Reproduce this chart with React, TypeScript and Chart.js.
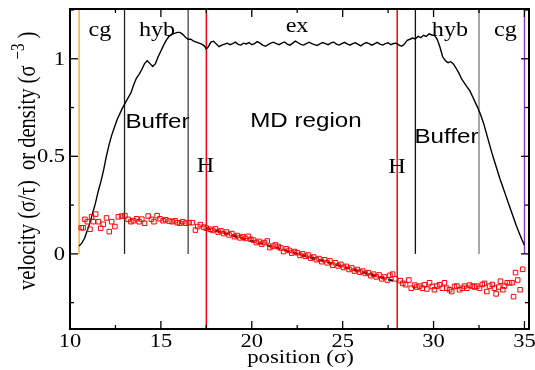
import React, { useEffect, useRef } from "react";
import { Chart, registerables } from "chart.js";

Chart.register(...registerables);

// ---------------- data ----------------
const X_MIN = 10;
const X_MAX = 35.25;
const Y_MIN = -0.385;
const Y_MAX = 1.255;

const xMajorTicks = [10, 15, 20, 25, 30, 35];
const xMinorTicks = [12.5, 17.5, 22.5, 27.5, 32.5];
const yMajorTicks = [0, 0.5, 1];
const yMinorTicks = [-0.25, 0.25, 0.75, 1.25];
const xTickLabels = ["10", "15", "20", "25", "30", "35"];
const yTickLabels = ["0", "0.5", "1"];

// density profile
const densityX = [
  10.5, 10.65, 10.8, 10.95, 11.1, 11.25, 11.4, 11.55, 11.7, 11.85, 12.0, 12.15, 12.3, 12.45, 12.6, 12.75, 12.9,
  13.05, 13.2, 13.35, 13.5, 13.65, 13.8, 13.95, 14.1, 14.25, 14.4, 14.55, 14.7, 14.85, 15.0, 15.15, 15.3, 15.45,
  15.6, 15.75, 15.9, 16.05, 16.2, 16.35, 16.5, 16.65, 16.8, 16.95, 17.1, 17.25, 17.4, 17.5, 17.6, 17.75, 17.9,
  18.05, 18.2, 18.35, 18.5, 18.65, 18.8, 18.95, 19.1, 19.25, 19.4, 19.55, 19.7, 19.85, 20.0, 20.15, 20.3, 20.45,
  20.6, 20.75, 20.9, 21.05, 21.2, 21.35, 21.5, 21.65, 21.8, 21.95, 22.1, 22.25, 22.4, 22.55, 22.7, 22.85, 23.0,
  23.15, 23.3, 23.45, 23.6, 23.75, 23.9, 24.05, 24.2, 24.35, 24.5, 24.65, 24.8, 24.95, 25.1, 25.25, 25.4, 25.55,
  25.7, 25.85, 26.0, 26.15, 26.3, 26.45, 26.6, 26.75, 26.9, 27.05, 27.2, 27.35, 27.5, 27.65, 27.8, 27.95, 28.1,
  28.25, 28.4, 28.55, 28.7, 28.85, 29.0, 29.15, 29.3, 29.45, 29.6, 29.75, 29.9, 30.05, 30.2, 30.35, 30.5, 30.65,
  30.8, 30.95, 31.1, 31.25, 31.4, 31.55, 31.7, 31.85, 32.0, 32.15, 32.3, 32.45, 32.6, 32.75, 32.9, 33.05, 33.2,
  33.35, 33.5, 33.65, 33.8, 33.95, 34.1, 34.25, 34.4, 34.55, 34.7, 34.85, 35.0,
];
const densityY = [
  0.04, 0.055, 0.08, 0.12, 0.16, 0.21, 0.26, 0.32, 0.37, 0.43, 0.5, 0.56, 0.61, 0.65, 0.69, 0.72, 0.75,
  0.775, 0.8, 0.825, 0.865, 0.9, 0.92, 0.945, 0.975, 0.99, 0.975, 0.96, 0.975, 1.01, 1.04, 1.07, 1.095, 1.115,
  1.125, 1.13, 1.135, 1.135, 1.125, 1.11, 1.1, 1.1, 1.09, 1.085, 1.08, 1.075, 1.065, 1.05, 1.06, 1.085, 1.09,
  1.075, 1.062, 1.07, 1.075, 1.08, 1.072, 1.078, 1.085, 1.074, 1.07, 1.08, 1.076, 1.083, 1.072, 1.078, 1.088, 1.08,
  1.07, 1.064, 1.072, 1.08, 1.085, 1.078, 1.072, 1.08, 1.086, 1.075, 1.07, 1.08, 1.09, 1.082, 1.074, 1.07, 1.078,
  1.085, 1.078, 1.072, 1.068, 1.076, 1.083, 1.078, 1.072, 1.08, 1.086, 1.075, 1.07, 1.078, 1.084, 1.076, 1.07, 1.078,
  1.082, 1.074, 1.066, 1.076, 1.083, 1.078, 1.07, 1.076, 1.084, 1.075, 1.07, 1.078, 1.082, 1.072, 1.078, 1.08, 1.07,
  1.064, 1.075, 1.095, 1.1, 1.106, 1.102, 1.115, 1.108, 1.12, 1.114, 1.128, 1.122, 1.12, 1.1, 1.06, 1.01, 0.99,
  0.98, 0.985, 0.972, 0.95, 0.925, 0.895, 0.875, 0.855, 0.835, 0.805, 0.775, 0.745, 0.71, 0.67, 0.62, 0.57, 0.52,
  0.475, 0.43, 0.385, 0.345, 0.305, 0.265, 0.225, 0.185, 0.145, 0.11, 0.075, 0.045,
];

// velocity profile (open squares)
const velocityX = [
  10.62, 10.72, 10.82, 10.95, 11.1, 11.19, 11.28, 11.41, 11.56, 11.69, 11.83, 12.01, 12.16, 12.29, 12.47, 12.66,
  12.84, 13.02, 13.2, 13.35, 13.5, 13.66, 13.8, 13.95, 14.1, 14.3, 14.48, 14.62, 14.79, 14.95, 15.12, 15.27, 15.45,
  15.62, 15.78, 15.9, 16.05, 16.2, 16.36, 16.55, 16.73, 16.9, 17.03, 17.17, 17.35, 17.5, 17.72, 17.85,
  18.0, 18.15, 18.3, 18.45, 18.6, 18.75, 18.9, 19.05, 19.2, 19.35, 19.5, 19.65, 19.8, 19.95, 20.1, 20.25, 20.4,
  20.55, 20.7, 20.85, 21.0, 21.15, 21.3, 21.45, 21.6, 21.75, 21.9, 22.05, 22.2, 22.35, 22.5, 22.65, 22.8, 22.95,
  23.1, 23.25, 23.4, 23.55, 23.7, 23.85, 24.0, 24.15, 24.3, 24.45, 24.6, 24.75, 24.9, 25.05, 25.2, 25.35, 25.5,
  25.65, 25.8, 25.95, 26.1, 26.25, 26.4, 26.55, 26.7, 26.85, 27.0, 27.15, 27.3, 27.45, 27.6, 27.75, 27.9,
  28.17, 28.31, 28.46, 28.64, 28.77, 28.96, 29.08, 29.23, 29.38, 29.5, 29.63, 29.78, 29.93, 30.05, 30.18, 30.33,
  30.48, 30.6, 30.73, 30.88, 31.0, 31.15, 31.28, 31.43, 31.58, 31.7, 31.83, 31.98, 32.13, 32.25, 32.38, 32.53,
  32.68, 32.8, 32.93, 33.08, 33.23, 33.35, 33.44, 33.59, 33.68, 33.81, 33.9, 34.05, 34.18, 34.32, 34.4, 34.51,
  34.63, 34.76, 34.9,
];
const velocityY = [
  0.134, 0.134, 0.177, 0.165, 0.126, 0.19, 0.165, 0.204, 0.165, 0.131, 0.152, 0.184, 0.114, 0.165, 0.14, 0.19,
  0.194, 0.196, 0.177, 0.165, 0.17, 0.18, 0.165, 0.178, 0.157, 0.194, 0.177, 0.165, 0.196, 0.18, 0.17, 0.175, 0.168,
  0.165, 0.17, 0.16, 0.157, 0.165, 0.157, 0.16, 0.16, 0.122, 0.14, 0.15, 0.137, 0.132, 0.126, 0.12,
  0.128, 0.112, 0.118, 0.104, 0.112, 0.097, 0.104, 0.088, 0.094, 0.082, 0.088, 0.079, 0.09, 0.075, 0.07, 0.058, 0.064,
  0.05, 0.058, 0.066, 0.032, 0.04, 0.046, 0.038, 0.03, 0.012, 0.026, 0.018, 0.004, 0.012, 0.006, -0.008, 0.0, -0.012,
  -0.006, -0.022, -0.016, -0.03, -0.024, -0.04, -0.03, -0.046, -0.036, -0.058, -0.046, -0.062, -0.054, -0.07, -0.064, -0.08, -0.072,
  -0.088, -0.08, -0.094, -0.088, -0.1, -0.096, -0.112, -0.104, -0.118, -0.108, -0.128, -0.118, -0.134, -0.11, -0.104, -0.128,
  -0.137, -0.151, -0.158, -0.134, -0.176, -0.16, -0.17, -0.165, -0.176, -0.158, -0.18, -0.148, -0.167, -0.184, -0.165, -0.158,
  -0.176, -0.148, -0.176, -0.184, -0.193, -0.167, -0.165, -0.184, -0.176, -0.165, -0.176, -0.16, -0.165, -0.17, -0.165, -0.176,
  -0.157, -0.151, -0.193, -0.165, -0.157, -0.176, -0.205, -0.17, -0.14, -0.184, -0.165, -0.148, -0.148, -0.148, -0.219, -0.096,
  -0.134, -0.184, -0.079,
];

// linear reference profile in the MD region (dashed)
const linearFitX = [17.5, 28];
const linearFitY = [0.132, -0.144];

// region boundaries (drawn from 0 to the top)
const boundaryX = [10.5, 13, 16.5, 29, 32.5, 35];
// H/MD interfaces (full height)
const interfaceX = [17.5, 28];

// text annotations
const regionLabels = ["cg", "hyb", "ex", "hyb", "cg"];
const regionLabelX = [11.65, 14.79, 22.49, 30.9, 33.95];
const regionLabelY = [1.117, 1.117, 1.139, 1.117, 1.117];
const zoneLabels = ["Buffer", "MD region", "Buffer"];
const zoneLabelX = [14.81, 22.98, 30.71];
const zoneLabelY = [0.645, 0.65, 0.568];
const hLabels = ["H", "H"];
const hLabelX = [17.45, 27.99];
const hLabelY = [0.421, 0.413];

// ---------------- styles ----------------
const SERIF = '"Liberation Serif", "Times New Roman", serif';
const SANS = '"Liberation Sans", Arial, sans-serif';
const boundaryColors = ["#FFA500", "#222222", "#444444", "#111111", "#777777", "#8A2BE2"];
const SX = 1.25;

function stretchedText(ctx: CanvasRenderingContext2D, text: string, x: number, y: number, size: number, family: string, align: string, sx: number) {
  ctx.save();
  ctx.font = `${size}px ${family}`;
  ctx.textAlign = "left";
  ctx.textBaseline = "alphabetic";
  const w = ctx.measureText(text).width * sx;
  const left = align === "center" ? x - w / 2 : align === "right" ? x - w : x;
  ctx.translate(left, y);
  ctx.scale(sx, 1);
  ctx.fillStyle = "#000";
  ctx.fillText(text, 0, 0);
  ctx.restore();
}

const decorPlugin = {
  id: "decor",
  afterDatasetsDraw(chart: any) {
    const ctx: CanvasRenderingContext2D = chart.ctx;
    const { left, right, top, bottom } = chart.chartArea;
    const xs = chart.scales.x;
    const ys = chart.scales.y;
    ctx.save();
    ctx.strokeStyle = "#000";
    ctx.lineWidth = 1.3;
    const seg = (x1: number, y1: number, x2: number, y2: number) => {
      ctx.beginPath();
      ctx.moveTo(x1, y1);
      ctx.lineTo(x2, y2);
      ctx.stroke();
    };
    const MAJ = 8;
    const MIN = 4;
    xMajorTicks.forEach((v) => {
      const p = xs.getPixelForValue(v);
      seg(p, bottom, p, bottom - MAJ);
      seg(p, top, p, top + MAJ);
    });
    xMinorTicks.forEach((v) => {
      const p = xs.getPixelForValue(v);
      seg(p, bottom, p, bottom - MIN);
      seg(p, top, p, top + MIN);
    });
    yMajorTicks.forEach((v) => {
      const p = ys.getPixelForValue(v);
      seg(left, p, left + MAJ, p);
      seg(right, p, right - MAJ, p);
    });
    yMinorTicks.forEach((v) => {
      const p = ys.getPixelForValue(v);
      seg(left, p, left + MIN, p);
      seg(right, p, right - MIN, p);
    });
    ctx.lineWidth = 2;
    ctx.strokeRect(left, top, right - left, bottom - top);

    // tick labels
    xMajorTicks.forEach((v, i) => {
      stretchedText(ctx, xTickLabels[i], xs.getPixelForValue(v), bottom + 18, 18, SERIF, "center", SX);
    });
    yMajorTicks.forEach((v, i) => {
      stretchedText(ctx, yTickLabels[i], left - 5, ys.getPixelForValue(v) + 6, 18, SERIF, "right", SX);
    });

    // x title
    stretchedText(ctx, "position (\u03C3)", (left + right) / 2 + 1, bottom + 34, 19, SERIF, "center", 1.2);

    // y title (rotated)
    ctx.save();
    ctx.translate(35, 290);
    ctx.rotate(-Math.PI / 2);
    ctx.scale(1, SX);
    ctx.fillStyle = "#000";
    ctx.textBaseline = "alphabetic";
    ctx.textAlign = "left";
    const main = "velocity (\u03C3/\u03C4)  or density (\u03C3";
    ctx.font = `20.5px ${SERIF}`;
    ctx.fillText(main, 0, 0);
    let u = ctx.measureText(main).width + 6;
    ctx.font = `15px ${SERIF}`;
    ctx.fillText("\u22123", u, -9);
    u += ctx.measureText("\u22123").width + 5;
    ctx.font = `20.5px ${SERIF}`;
    ctx.fillText(")", u, 0);
    ctx.restore();

    // annotations
    regionLabels.forEach((t, i) => {
      stretchedText(ctx, t, xs.getPixelForValue(regionLabelX[i]), ys.getPixelForValue(regionLabelY[i]), 21, SERIF, "center", 1.15);
    });
    zoneLabels.forEach((t, i) => {
      stretchedText(ctx, t, xs.getPixelForValue(zoneLabelX[i]), ys.getPixelForValue(zoneLabelY[i]), 21, SANS, "center", 1.15);
    });
    hLabels.forEach((t, i) => {
      stretchedText(ctx, t, xs.getPixelForValue(hLabelX[i]), ys.getPixelForValue(hLabelY[i]), 21, SERIF, "center", 1.15);
    });
    ctx.restore();
  },
};

export default function App() {
  const canvasRef = useRef<HTMLCanvasElement | null>(null);

  useEffect(() => {
    const canvas = canvasRef.current;
    if (!canvas) return;

    const datasets: any[] = [];
    datasets.push({
      label: "velocity",
      data: velocityX.map((x, i) => ({ x, y: velocityY[i] })),
      showLine: false,
      pointStyle: "rect",
      pointRadius: 3.2,
      pointBorderColor: "#FF0000",
      pointBackgroundColor: "rgba(0,0,0,0)",
      pointBorderWidth: 1,
      borderColor: "#FF0000",
      backgroundColor: "rgba(0,0,0,0)",
      order: 0,
    });
    datasets.push({
      label: "linear",
      data: linearFitX.map((x, i) => ({ x, y: linearFitY[i] })),
      showLine: true,
      borderColor: "#000",
      borderWidth: 2,
      borderDash: [5, 4],
      pointRadius: 0,
      order: 1,
    });
    datasets.push({
      label: "density",
      data: densityX.map((x, i) => ({ x, y: densityY[i] })),
      showLine: true,
      borderColor: "#000",
      borderWidth: 1.4,
      pointRadius: 0,
      tension: 0,
      order: 2,
    });
    interfaceX.forEach((x) => {
      datasets.push({
        label: "interface",
        data: [{ x, y: Y_MIN }, { x, y: Y_MAX }],
        showLine: true,
        borderColor: "#FF0000",
        borderWidth: 1.5,
        pointRadius: 0,
        order: 3,
      });
    });
    boundaryX.forEach((x, i) => {
      datasets.push({
        label: "boundary",
        data: [{ x, y: 0 }, { x, y: Y_MAX }],
        showLine: true,
        borderColor: boundaryColors[i],
        borderWidth: 1.3,
        pointRadius: 0,
        order: 4,
      });
    });

    const chart = new Chart(canvas, {
      type: "scatter",
      data: { datasets },
      options: {
        responsive: false,
        animation: false,
        devicePixelRatio: 1,
        layout: { padding: { left: 70, top: 9, right: 6, bottom: 41 } },
        plugins: { legend: { display: false }, tooltip: { enabled: false } },
        scales: {
          x: { type: "linear", min: X_MIN, max: X_MAX, display: false },
          y: { type: "linear", min: Y_MIN, max: Y_MAX, display: false },
        },
      } as any,
      plugins: [decorPlugin],
    });
    return () => chart.destroy();
  }, []);

  return (
    <div style={{ position: "absolute", left: 0, top: 0, width: 535, height: 370, background: "#fff" }}>
      <canvas ref={canvasRef} width={535} height={370} style={{ display: "block" }} />
    </div>
  );
}
